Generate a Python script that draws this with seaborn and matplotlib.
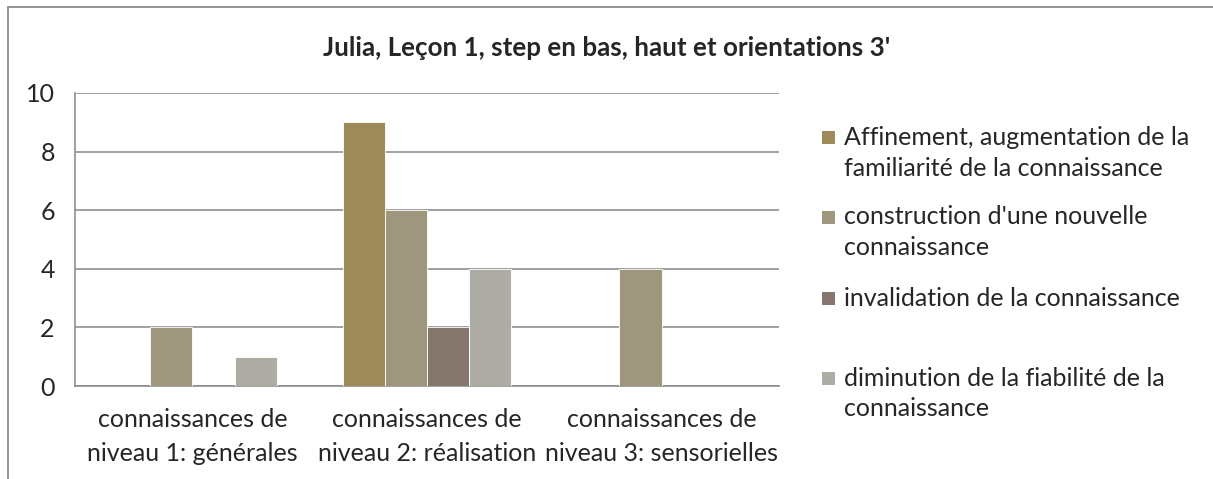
import numpy as np
import pandas as pd
import matplotlib
matplotlib.use("Agg")
import matplotlib.pyplot as plt
import seaborn as sns
from matplotlib.patches import Rectangle

# données
categories = [
    "connaissances de\nniveau 1: générales",
    "connaissances de\nniveau 2: réalisation",
    "connaissances de\nniveau 3: sensorielles",
]
series = [
    "Affinement, augmentation de la\nfamiliarité de la connaissance",
    "construction d'une nouvelle\nconnaissance",
    "invalidation de la connaissance",
    "diminution de la fiabilité de la\nconnaissance",
]
affinement = [0, 9, 0]
construction = [2, 6, 4]
invalidation = [0, 2, 0]
diminution = [1, 4, 0]
colors = ["#9E8B5A", "#9E967D", "#85776D", "#ADADA6"]
title = "Julia, Leçon 1, step en bas, haut et orientations 3'"

rows = []
for s, vals in zip(series, [affinement, construction, invalidation, diminution]):
    for c, v in zip(categories, vals):
        rows.append({"cat": c, "serie": s, "val": v})
df = pd.DataFrame(rows)

sns.set_style("white")
plt.rcParams["font.family"] = ["Lato", "DejaVu Sans"]

W, H = 1213, 479
fig = plt.figure(figsize=(W / 100, H / 100), dpi=100)
ax = fig.add_axes([75 / W, 1 - 386 / H, (779 - 75) / W, (386 - 93) / H])

sns.barplot(data=df, x="cat", y="val", hue="serie", hue_order=series,
            order=categories, palette=colors, width=0.72, saturation=1,
            edgecolor="white", linewidth=0.6, ax=ax, zorder=3, legend=False)

grid_c = "#868686"
ax.set_ylim(0, 10)
ax.set_yticks(np.arange(0, 11, 2))
ax.set_xlim(-0.5, 2.5)
ax.yaxis.grid(True, color=grid_c, linewidth=1.1, zorder=0)
ax.set_axisbelow(True)
for side in ["top", "right"]:
    ax.spines[side].set_visible(False)
for side in ["left", "bottom"]:
    ax.spines[side].set_color(grid_c)
    ax.spines[side].set_linewidth(1.1)

ax.set_xticks([-0.5, 0.5, 1.5, 2.5])
ax.set_xticklabels([])
ax.set_xticks([0, 1, 2], minor=True)
ax.set_xticklabels(categories, minor=True, fontsize=18, linespacing=1.55)
ax.tick_params(axis="x", which="minor", length=0, pad=16)
ax.tick_params(axis="x", which="major", length=6, width=1.1, color=grid_c, direction="out")
ax.tick_params(axis="y", length=5.5, width=1.1, color=grid_c, direction="out",
               labelsize=18, pad=9)
ax.set_xlabel("")
ax.set_ylabel("")

fig.text(0.5, 1 - 48 / H, title, ha="center", va="center",
         fontsize=18.7, fontweight="bold")

# légende à droite
entry_y = [137.5, 217, 298, 378]
for s, col, yc in zip(series, colors, entry_y):
    fig.patches.append(Rectangle((822 / W, 1 - (yc + 6.5) / H), 13 / W, 13 / H,
                                 transform=fig.transFigure, facecolor=col,
                                 edgecolor="none"))
    for i, line in enumerate(s.split("\n")):
        fig.text(844 / W, 1 - (yc + i * 31) / H, line, ha="left", va="center",
                 fontsize=18)

# cadre du graphique
fig.patches.append(Rectangle((8 / W, -0.1), 1.2, 1 - 7 / H + 0.1,
                             transform=fig.transFigure, fill=False,
                             edgecolor="#8a8a8a", linewidth=1.3))

fig.savefig("out.png", dpi=100)
